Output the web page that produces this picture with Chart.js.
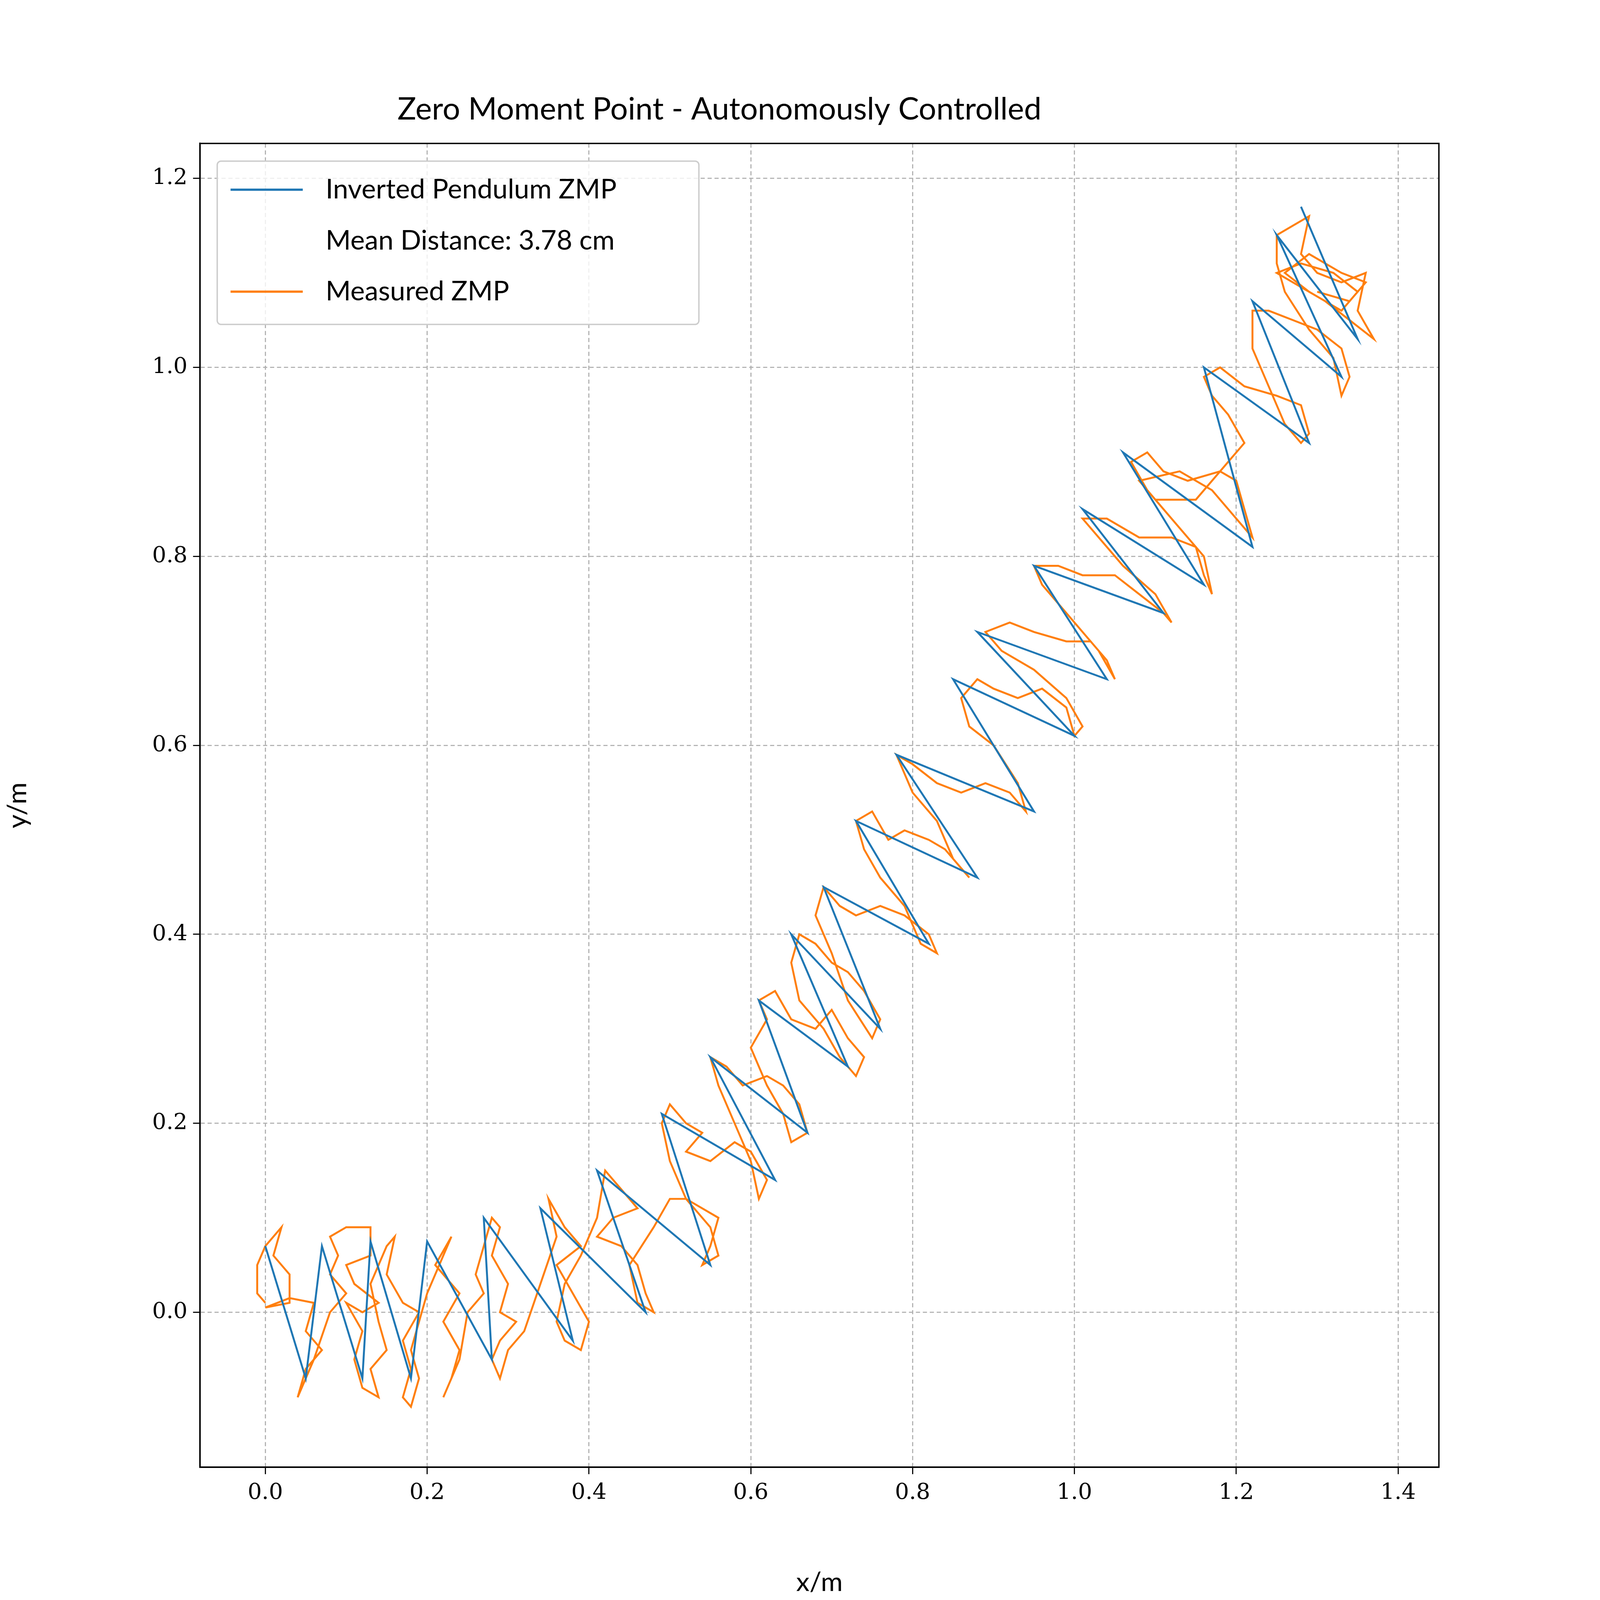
<!DOCTYPE html>
<html>
<head>
<meta charset="utf-8">
<script src="https://cdn.jsdelivr.net/npm/chart.js@4.4.1/dist/chart.umd.min.js"></script>
<style>
  html, body { margin: 0; padding: 0; background: #fff; overflow: hidden; }
  canvas { display: block; }
</style>
</head>
<body>
<canvas id="zmp"></canvas>
<script>
//--|datos|--//
const xTicks = [0.0, 0.2, 0.4, 0.6, 0.8, 1.0, 1.2, 1.4];
const yTicks = [0.0, 0.2, 0.4, 0.6, 0.8, 1.0, 1.2];

// inverted pendulum ZMP: alternating upper / lower foot points
const pendulumX = [0.0, 0.05, 0.07, 0.12, 0.13, 0.18, 0.2, 0.28, 0.27, 0.38, 0.34, 0.47, 0.41, 0.55, 0.49, 0.63, 0.55, 0.67, 0.61, 0.72, 0.65, 0.76, 0.69, 0.82, 0.73, 0.88, 0.78, 0.95, 0.85, 1.0, 0.88, 1.04, 0.95, 1.11, 1.01, 1.16, 1.06, 1.22, 1.16, 1.29, 1.22, 1.33, 1.25, 1.35, 1.28, 1.34];
const pendulumY = [0.07, -0.07, 0.07, -0.07, 0.075, -0.07, 0.075, -0.05, 0.1, -0.03, 0.11, 0.0, 0.15, 0.05, 0.21, 0.14, 0.27, 0.19, 0.33, 0.26, 0.4, 0.3, 0.45, 0.39, 0.52, 0.46, 0.59, 0.53, 0.67, 0.61, 0.72, 0.67, 0.79, 0.74, 0.85, 0.77, 0.91, 0.81, 1.0, 0.92, 1.07, 0.99, 1.14, 1.03, 1.17, 1.05];

const measuredX = [0.0,-0.01,-0.01,0.0,0.02,0.01,0.03,0.03,0.0,0.03,0.06,0.05,0.07,0.05,0.04,0.06,0.08,0.1,0.08,0.09,0.08,0.1,0.13,0.13,0.1,0.11,0.14,0.12,0.1,0.12,0.11,0.12,0.14,0.13,0.15,0.14,0.13,0.15,0.16,0.15,0.17,0.19,0.17,0.18,0.17,0.18,0.19,0.18,0.2,0.22,0.23,0.21,0.23,0.24,0.22,0.24,0.23,0.22,0.24,0.25,0.27,0.26,0.27,0.28,0.29,0.28,0.3,0.29,0.31,0.29,0.28,0.29,0.3,0.32,0.34,0.36,0.35,0.37,0.39,0.36,0.38,0.40,0.39,0.37,0.36,0.37,0.39,0.41,0.42,0.44,0.46,0.43,0.41,0.44,0.46,0.47,0.48,0.46,0.45,0.48,0.50,0.52,0.54,0.56,0.55,0.54,0.56,0.55,0.52,0.50,0.49,0.50,0.52,0.54,0.52,0.55,0.58,0.60,0.62,0.61,0.60,0.58,0.56,0.55,0.57,0.59,0.62,0.64,0.66,0.67,0.65,0.64,0.62,0.60,0.62,0.61,0.63,0.65,0.68,0.70,0.72,0.74,0.73,0.71,0.69,0.66,0.65,0.66,0.68,0.70,0.72,0.74,0.76,0.75,0.72,0.70,0.68,0.69,0.71,0.73,0.76,0.79,0.82,0.83,0.81,0.79,0.76,0.74,0.73,0.75,0.77,0.79,0.82,0.84,0.86,0.87,0.85,0.83,0.80,0.78,0.80,0.83,0.86,0.89,0.92,0.94,0.93,0.90,0.87,0.86,0.88,0.90,0.93,0.96,0.99,1.0,1.01,0.99,0.95,0.91,0.89,0.92,0.95,0.99,1.02,1.04,1.05,1.03,0.99,0.96,0.95,0.98,1.01,1.05,1.08,1.11,1.12,1.10,1.06,1.03,1.01,1.04,1.08,1.12,1.15,1.16,1.17,1.16,1.12,1.09,1.07,1.09,1.11,1.14,1.18,1.20,1.21,1.22,1.20,1.17,1.13,1.08,1.10,1.15,1.19,1.21,1.19,1.17,1.16,1.18,1.21,1.25,1.28,1.29,1.28,1.26,1.24,1.22,1.22,1.24,1.27,1.30,1.33,1.34,1.33,1.32,1.29,1.26,1.25,1.25,1.27,1.29,1.28,1.30,1.33,1.36,1.35,1.37,1.34,1.31,1.27,1.25,1.28,1.32,1.35,1.33,1.29,1.26,1.29,1.33,1.36,1.34,1.30];
const measuredY = [0.01,0.02,0.05,0.07,0.09,0.06,0.04,0.01,0.005,0.015,0.01,-0.02,-0.04,-0.06,-0.09,-0.05,0.0,0.02,0.04,0.06,0.08,0.09,0.09,0.06,0.05,0.03,0.01,0.0,0.01,-0.02,-0.05,-0.08,-0.09,-0.06,-0.04,-0.01,0.03,0.07,0.08,0.04,0.01,0.0,-0.03,-0.06,-0.09,-0.1,-0.07,-0.04,0.02,0.06,0.08,0.05,0.03,0.02,-0.01,-0.04,-0.07,-0.09,-0.05,0.0,0.02,0.04,0.07,0.1,0.09,0.06,0.03,0.0,-0.01,-0.03,-0.05,-0.07,-0.04,-0.02,0.03,0.08,0.12,0.09,0.07,0.05,0.02,-0.01,-0.04,-0.03,-0.01,0.03,0.06,0.1,0.15,0.13,0.11,0.1,0.08,0.07,0.05,0.02,0.0,0.01,0.05,0.09,0.12,0.12,0.11,0.1,0.07,0.05,0.06,0.09,0.12,0.16,0.2,0.22,0.2,0.19,0.17,0.16,0.18,0.17,0.14,0.12,0.16,0.2,0.24,0.27,0.26,0.24,0.25,0.24,0.22,0.19,0.18,0.21,0.24,0.28,0.31,0.33,0.34,0.31,0.3,0.32,0.29,0.27,0.25,0.27,0.3,0.33,0.37,0.4,0.39,0.37,0.36,0.34,0.31,0.29,0.33,0.38,0.42,0.45,0.43,0.42,0.43,0.42,0.4,0.38,0.39,0.43,0.46,0.49,0.52,0.53,0.5,0.51,0.5,0.49,0.47,0.46,0.48,0.52,0.55,0.59,0.58,0.56,0.55,0.56,0.55,0.53,0.56,0.6,0.62,0.65,0.67,0.66,0.65,0.66,0.64,0.61,0.62,0.65,0.68,0.7,0.72,0.73,0.72,0.71,0.71,0.69,0.67,0.7,0.74,0.77,0.79,0.79,0.78,0.78,0.76,0.74,0.73,0.76,0.79,0.82,0.84,0.84,0.82,0.82,0.81,0.78,0.76,0.8,0.84,0.87,0.9,0.91,0.89,0.88,0.89,0.88,0.85,0.82,0.84,0.87,0.89,0.88,0.86,0.86,0.9,0.92,0.95,0.97,0.99,1.0,0.98,0.97,0.96,0.93,0.92,0.94,0.98,1.02,1.06,1.06,1.05,1.04,1.02,0.99,0.97,1.01,1.04,1.08,1.11,1.14,1.15,1.16,1.12,1.1,1.09,1.1,1.06,1.03,1.05,1.07,1.09,1.1,1.11,1.1,1.08,1.06,1.08,1.1,1.12,1.1,1.09,1.07,1.08];

const pendulumColor = "#1f77b4";
const measuredColor = "#ff7f0e";

// everything below is laid out in 5760-wide units, scaled to the real viewport
const W = window.innerWidth, H = window.innerHeight;
const k = W / 5760;
const canvas = document.getElementById("zmp");
canvas.style.width = W + "px";
canvas.style.height = H + "px";

function toPoints(xs, ys) {
    return xs.map((x, i) => ({ x: x, y: ys[i] }));
}

//--|marco_y_leyenda|--//
const frameAndLegend = {
    id: "frameAndLegend",
    afterDraw(chart) {
        const ctx = chart.ctx;
        const a = chart.chartArea;
        ctx.save();
        ctx.strokeStyle = "#000";
        ctx.lineWidth = 5 * k;
        ctx.strokeRect(a.left, a.top, a.right - a.left, a.bottom - a.top);

        ctx.fillStyle = "rgba(255,255,255,0.8)";
        ctx.strokeStyle = "#cccccc";
        ctx.lineWidth = 5 * k;
        ctx.beginPath();
        ctx.roundRect(782 * k, 580 * k, 1734 * k, 588 * k, 14 * k);
        ctx.fill();
        ctx.stroke();
        const rows = [
            { color: pendulumColor, text: "Inverted Pendulum ZMP", y: 683 },
            { color: null, text: "Mean Distance: 3.78 cm", y: 867 },
            { color: measuredColor, text: "Measured ZMP", y: 1050 }
        ];
        ctx.font = (98 * k) + "px Lato";
        ctx.textBaseline = "middle";
        rows.forEach(r => {
            if (r.color) {
                ctx.strokeStyle = r.color;
                ctx.lineWidth = 8 * k;
                ctx.beginPath();
                ctx.moveTo(830 * k, r.y * k);
                ctx.lineTo(1090 * k, r.y * k);
                ctx.stroke();
            }
            ctx.fillStyle = "#000";
            ctx.fillText(r.text, 1172 * k, r.y * k);
        });
        ctx.restore();
    }
};

const fixTicks = list => scale => { scale.ticks = list.map(v => ({ value: v })); };

function axisOptions(min, max, ticks, titleText, titlePad) {
    return {
        type: "linear",
        min: min,
        max: max,
        afterBuildTicks: fixTicks(ticks),
        border: { color: "#000", width: 5 * k, dash: [15 * k, 10 * k] },
        grid: { color: "#b0b0b0", lineWidth: 4 * k, tickColor: "#000", tickLength: 25 * k, tickBorderDash: [] },
        ticks: { color: "#000", font: { family: "DejaVu Serif", size: 80 * k }, padding: 20 * k, callback: v => v.toFixed(1) },
        title: { display: true, text: titleText, color: "#000", font: { family: "Lato", size: 96 * k }, padding: titlePad }
    };
}

const xAxis = axisOptions(-0.0807, 1.4504, xTicks, "x/m", { top: 25 * k });
xAxis.afterFit = s => { s.height = 478 * k; };
const yAxis = axisOptions(-0.164, 1.237, yTicks, "y/m", { bottom: 60 * k });
yAxis.afterFit = s => { s.width = 720 * k; };

new Chart(canvas, {
    type: "scatter",
    data: {
        datasets: [
            {
                data: toPoints(pendulumX, pendulumY),
                showLine: true,
                borderColor: pendulumColor,
                borderWidth: 7 * k,
                pointRadius: 0,
                tension: 0
            },
            {
                data: toPoints(measuredX, measuredY),
                showLine: true,
                borderColor: measuredColor,
                borderWidth: 7 * k,
                pointRadius: 0,
                tension: 0
            }
        ]
    },
    options: {
        responsive: false,
        animation: false,
        layout: { padding: { left: 0, right: 580 * k, top: 0, bottom: 0 } },
        plugins: {
            legend: { display: false },
            tooltip: { enabled: false },
            title: {
                display: true,
                text: "Zero Moment Point - Autonomously Controlled",
                color: "#000",
                font: { family: "Lato", size: 112 * k, weight: "normal" },
                padding: { top: 327 * k, bottom: 55 * k }
            }
        },
        scales: { x: xAxis, y: yAxis }
    },
    plugins: [frameAndLegend]
});
</script>
</body>
</html>
